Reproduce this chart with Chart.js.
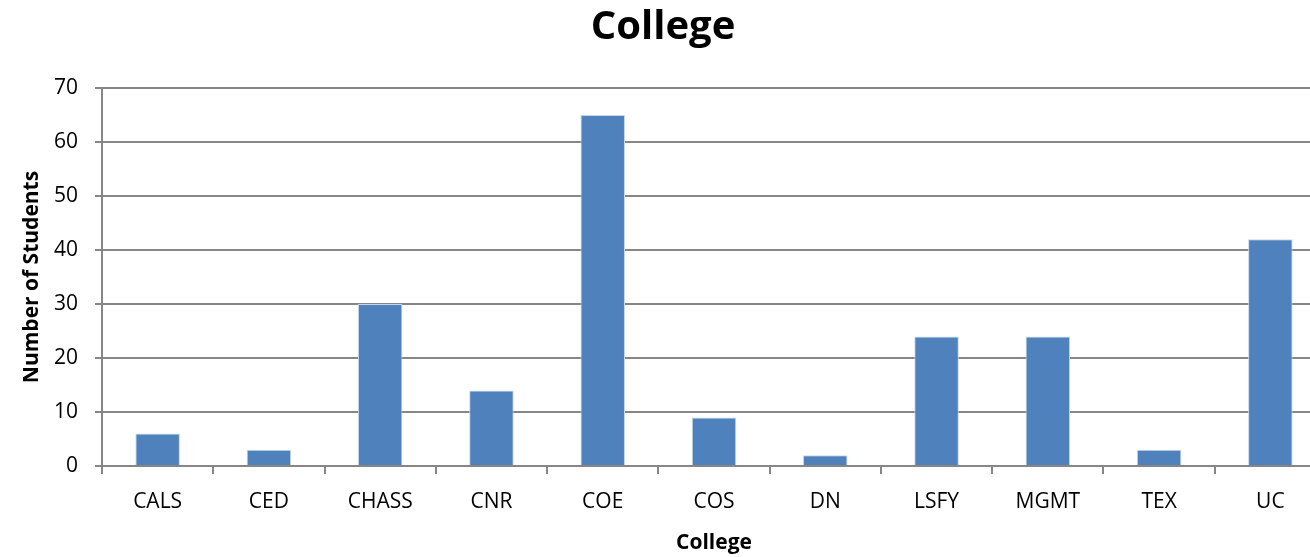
<!DOCTYPE html>
<html>
<head>
<meta charset="utf-8">
<script src="https://cdn.jsdelivr.net/npm/chart.js@4/dist/chart.umd.min.js"></script>
<style>
  html, body { margin: 0; padding: 0; background: #fff; overflow: hidden; }
  #wrap { width: 1330px; height: 557px; }
</style>
</head>
<body>
<div id="wrap"><canvas id="collegeChart"></canvas></div>
<script>
// Students per college
const colleges = ['CALS', 'CED', 'CHASS', 'CNR', 'COE', 'COS', 'DN', 'LSFY', 'MGMT', 'TEX', 'UC'];
const students = [6, 3, 30, 14, 65, 9, 2, 24, 24, 3, 42];
const yTicks = [0, 10, 20, 30, 40, 50, 60, 70];

const fontFamily = "'Open Sans', 'Liberation Sans', sans-serif";

const collegeChart = new Chart(
    document.getElementById('collegeChart'),
    {
        type: 'bar',
        data: {
            labels: colleges,
            datasets: [{
                label: 'College',
                data: students,
                backgroundColor: '#4F81BD',
                borderColor: '#C6D6EA',
                borderWidth: 1,
                barPercentage: 0.4,
                categoryPercentage: 1
            }]
        },
        options: {
            responsive: true,
            maintainAspectRatio: false,
            animation: false,
            layout: { padding: { left: 0, right: 4, top: 0, bottom: 0 } },
            plugins: {
                legend: { display: false },
                tooltip: { enabled: false },
                title: {
                    display: true,
                    text: 'College',
                    color: '#000',
                    font: { family: fontFamily, size: 40, weight: 'bold' },
                    padding: { top: 4, bottom: 36 }
                }
            },
            scales: {
                x: {
                    offset: true,
                    border: { color: '#868686', width: 2 },
                    grid: {
                        offset: true,
                        drawOnChartArea: false,
                        drawTicks: true,
                        tickLength: 8,
                        color: '#868686',
                        lineWidth: 2
                    },
                    ticks: {
                        color: '#000',
                        padding: 15,
                        font: { family: fontFamily, size: 21 },
                        maxRotation: 0
                    },
                    title: {
                        display: true,
                        text: 'College',
                        color: '#000',
                        font: { family: fontFamily, size: 21, weight: 'bold' },
                        padding: { top: 10, bottom: 1 }
                    },
                    afterFit: scale => { scale.height = 91; }
                },
                y: {
                    min: 0,
                    max: 70,
                    afterBuildTicks: scale => {
                        scale.ticks = yTicks.map(v => ({ value: v }));
                    },
                    border: { color: '#868686', width: 2 },
                    grid: {
                        color: '#868686',
                        lineWidth: 2,
                        tickLength: 7
                    },
                    ticks: {
                        color: '#000',
                        padding: 17,
                        font: { family: fontFamily, size: 21 }
                    },
                    title: {
                        display: true,
                        text: 'Number of Students',
                        color: '#000',
                        font: { family: fontFamily, size: 21, weight: 'bold' },
                        padding: { top: 19, bottom: 8 }
                    },
                    afterFit: scale => { scale.width = 102; }
                }
            }
        }
    }
);
</script>
</body>
</html>
